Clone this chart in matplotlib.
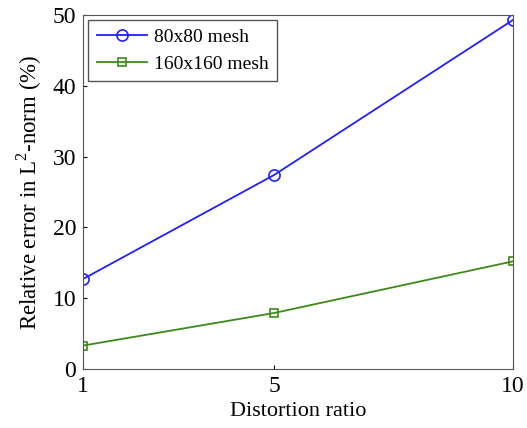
import matplotlib
matplotlib.use('Agg')
from matplotlib import pyplot as plt

plt.rcParams['font.family'] = ['Liberation Serif', 'DejaVu Serif']
plt.rcParams['mathtext.fontset'] = 'custom'
plt.rcParams['mathtext.rm'] = 'Liberation Serif'

# данные
ratio = [1, 5, 10]
err_80 = [12.7, 27.4, 49.3]
err_160 = [3.3, 7.9, 15.2]

fig = plt.figure(figsize=(5.27, 4.28), dpi=100)
ax = fig.add_axes([0.1575, 0.138, 0.816, 0.827])

ax.plot(ratio, err_80, color='#2020ff', marker='o', markersize=8,
        markerfacecolor='none', markeredgewidth=1.2, lw=1.3, label='80x80 mesh')
ax.plot(ratio, err_160, color='#3d8a1a', marker='s', markersize=6,
        markerfacecolor='none', markeredgewidth=1.2, lw=1.3, label='160x160 mesh')

ax.set_xlim(1, 10)
ax.set_ylim(0, 50)
ax.set_xticks([1, 5, 10])
ax.set_yticks(range(0, 51, 10))
ax.tick_params(direction='in', labelsize=17, length=3, top=False, right=False, pad=5)
for s in ax.spines.values():
    s.set_color('#555555')
    s.set_clip_on(False)

ax.set_xlabel('Distortion ratio', fontsize=16, labelpad=4)
ax.set_ylabel('Relative error in L$^2$-norm (%)', fontsize=16.5, labelpad=6)

leg = ax.legend(loc='upper left', fontsize=14, fancybox=False, framealpha=1,
                edgecolor='#555555', handlelength=2.6, handletextpad=0.35,
                borderaxespad=0.25, borderpad=0.45, labelspacing=0.45)
leg.get_frame().set_linewidth(1.0)

fig.savefig('out.png', dpi=100)
